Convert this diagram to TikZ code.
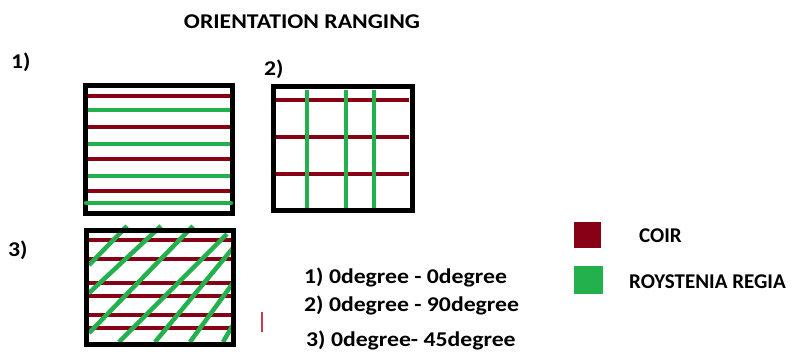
\documentclass[tikz,border=0pt]{standalone}
\usepackage{fontspec}
\setmainfont{Carlito}
\newfontfamily\widecarlito[FakeStretch=1.13]{Carlito}
\usepackage{tikz}

\definecolor{coir}{RGB}{136,0,21}
\definecolor{regia}{RGB}{34,177,76}
\definecolor{stray}{RGB}{200,60,80}

\begin{document}
\begin{tikzpicture}[x=1pt,y=-1pt,
	txt/.style={font=\widecarlito\fontsize{21}{25}\selectfont\bfseries, inner sep=0pt, anchor=west},
	keytxt/.style={font=\fontsize{21}{25}\selectfont\bfseries, inner sep=0pt, anchor=west},
	frame/.style={draw=black, line width=5pt, inner sep=0pt},
	coirline/.style={coir, line width=4.5pt},
	regialine/.style={regia, line width=4.5pt},
	swatch/.style={inner sep=0pt}]
	\useasboundingbox (0,0) rectangle (793,354);

	% titles
	\node[txt, anchor=center] (title) at (302,22) {ORIENTATION RANGING};
	\node[txt] (n1) at (11,62) {1)};
	\node[txt] (n2) at (264,69) {2)};
	\node[txt] (n3) at (8,250) {3)};

	% sample 1: 0 - 0
	\draw[coirline] (88,96) -- (230,96);
	\draw[regialine] (88,110) -- (230,110);
	\draw[coirline] (88,127) -- (230,127);
	\draw[regialine] (88,144) -- (230,144);
	\draw[coirline] (88,159) -- (230,159);
	\draw[regialine] (88,176) -- (230,176);
	\draw[coirline] (88,191) -- (230,191);
	\node[frame, minimum width=147pt, minimum height=128pt] (frameA) at (159,149.5) {};
	\draw[regialine, line cap=round] (86,203) -- (231,203);

	% sample 2: 0 - 90
	\draw[coirline] (276,100) -- (409,100);
	\draw[coirline] (276,137) -- (409,137);
	\draw[coirline] (276,174) -- (409,174);
	\draw[regialine] (307,90) -- (307,208);
	\draw[regialine] (346,90) -- (346,208);
	\draw[regialine] (374,90) -- (374,208);
	\node[frame, minimum width=139pt, minimum height=124pt] (frameB) at (343,148.5) {};

	% sample 3: 0 - 45
	\draw[coirline] (89,240) -- (233,240);
	\draw[coirline] (89,259) -- (233,259);
	\draw[coirline] (89,283) -- (233,283);
	\draw[coirline] (89,296) -- (233,296);
	\draw[coirline] (89,315) -- (233,315);
	\draw[coirline] (89,328) -- (233,328);
	\draw[regialine] (89,265) -- (127,226);
	\draw[regialine] (89,293) -- (161,226);
	\draw[regialine] (89,333) -- (193,226);
	\draw[regialine] (119,342) -- (227,234);
	\draw[regialine] (155,342) -- (233,248);
	\draw[regialine] (190,342) -- (233,283);
	\draw[regialine] (223,342) -- (233,325);
	\node[frame, minimum width=147pt, minimum height=114pt] (frameC) at (160,287.5) {};

	\draw[stray, line width=1.2pt] (262,312) -- (262,332);

	% angles
	\node[txt] (a1) at (304,277) {1) 0degree - 0degree};
	\node[txt] (a2) at (304,305) {2) 0degree - 90degree};
	\node[txt] (a3) at (306,340) {3) 0degree- 45degree};

	% legend
	\node[swatch, fill=coir, minimum width=27pt, minimum height=26pt] (kc) at (587.5,235) {};
	\node[swatch, fill=regia, minimum width=29pt, minimum height=28pt] (kr) at (588.5,280) {};
	\node[keytxt] (lc) at (639,236) {COIR};
	\node[keytxt] (lr) at (629,282) {ROYSTENIA REGIA};
\end{tikzpicture}
\end{document}
